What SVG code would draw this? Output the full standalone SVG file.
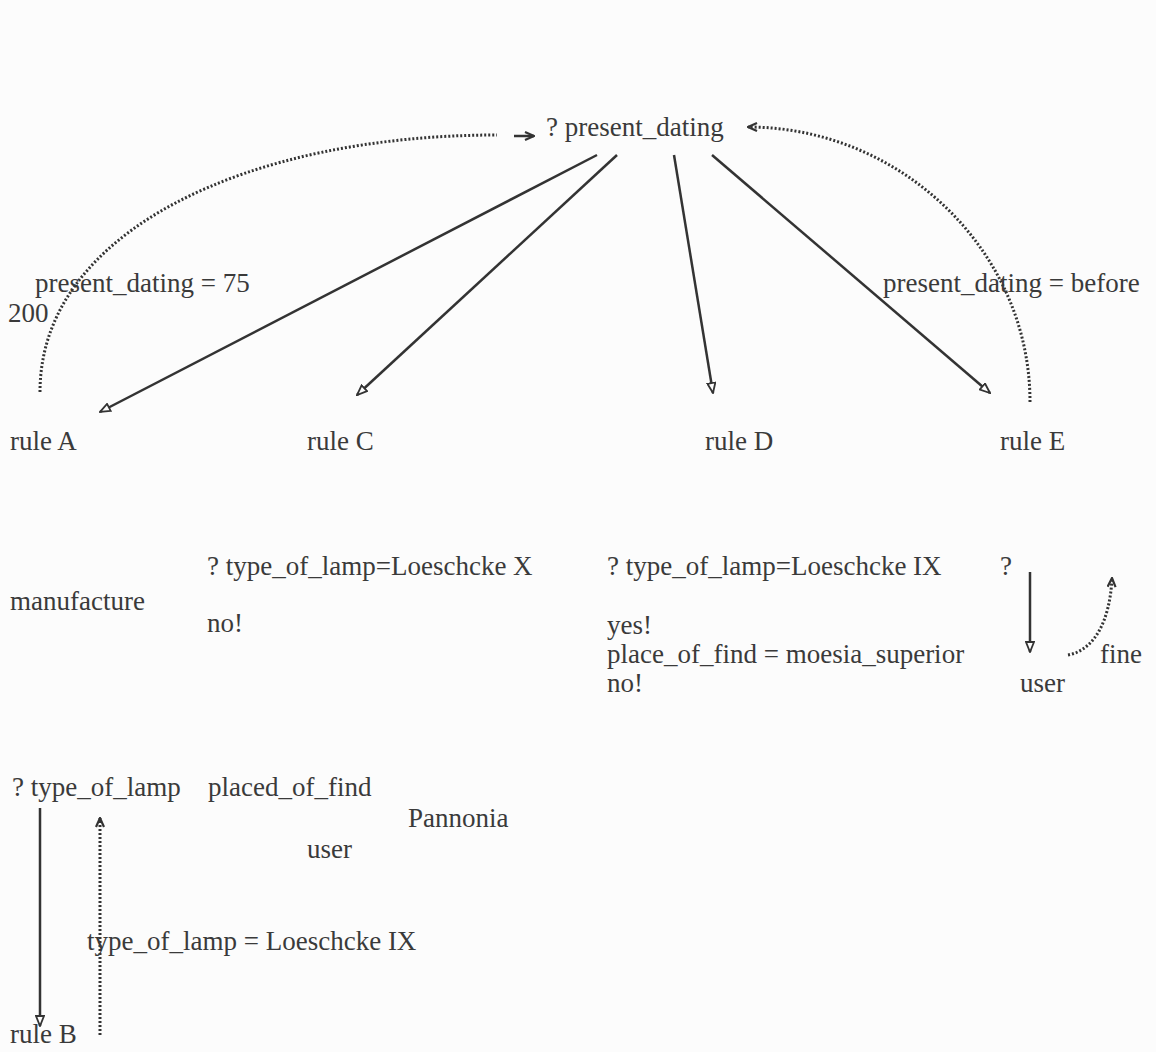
<svg xmlns="http://www.w3.org/2000/svg" width="1156" height="1052" viewBox="0 0 1156 1052">
<style>
text{font-family:'Liberation Serif','Tinos','DejaVu Serif',serif;font-size:27px;fill:#3a3a3a}
.s{stroke:#333;stroke-width:2.5;fill:none}
.d{stroke:#333;stroke-width:3;fill:none;stroke-dasharray:2 2}
</style>
<defs>
<marker id="ah" viewBox="0 0 12 10" refX="11" refY="5" markerWidth="12" markerHeight="10" markerUnits="userSpaceOnUse" orient="auto">
<path d="M1 1 L11 5 L1 9 Z" fill="#fcfcfc" stroke="#333" stroke-width="1.8"/>
</marker>
<marker id="as" viewBox="0 0 12 10" refX="11" refY="5" markerWidth="12" markerHeight="10" markerUnits="userSpaceOnUse" orient="auto">
<path d="M2 1 L11 5 L2 9" fill="none" stroke="#333" stroke-width="2.2"/>
</marker>
</defs>
<rect width="1156" height="1052" fill="#fcfcfc"/>
<g id="connectors">
<path class="d" d="M40 392 C40 230 250 135 497 135"/>
<line class="s" x1="514" y1="136" x2="534" y2="136" marker-end="url(#as)"/>
<path class="d" d="M1030 402 C1030 250 900 127 748 127" marker-end="url(#as)"/>
<line class="s" x1="597" y1="155" x2="100" y2="412" marker-end="url(#ah)"/>
<line class="s" x1="617" y1="155" x2="357" y2="395" marker-end="url(#ah)"/>
<line class="s" x1="674" y1="155" x2="713" y2="393" marker-end="url(#ah)"/>
<line class="s" x1="712" y1="155" x2="990" y2="393" marker-end="url(#ah)"/>
<line class="s" x1="1030" y1="572" x2="1030" y2="652" marker-end="url(#ah)"/>
<path class="d" d="M1068 655 C1095 650 1110 620 1112 578" marker-end="url(#as)"/>
<line class="s" x1="40" y1="808" x2="40" y2="1026" marker-end="url(#ah)"/>
<line class="d" x1="100" y1="1035" x2="100" y2="818" marker-end="url(#as)"/>
</g>
<g id="n-present-dating"><text x="546" y="136">? present_dating</text></g>
<g id="l-pd75"><text x="35" y="292">present_dating = 75</text><text x="8" y="322">200</text></g>
<g id="l-pdbefore"><text x="883" y="292">present_dating = before</text></g>
<g id="n-rule-a"><text x="10" y="450">rule A</text></g>
<g id="n-rule-c"><text x="307" y="450">rule C</text></g>
<g id="n-rule-d"><text x="705" y="450">rule D</text></g>
<g id="n-rule-e"><text x="1000" y="450">rule E</text></g>
<g id="n-manufacture"><text x="10" y="610">manufacture</text></g>
<g id="n-c-block"><text x="207" y="575">? type_of_lamp=Loeschcke X</text><text x="207" y="632">no!</text></g>
<g id="n-d-block"><text x="607" y="575">? type_of_lamp=Loeschcke IX</text><text x="607" y="634">yes!</text><text x="607" y="663">place_of_find = moesia_superior</text><text x="607" y="692">no!</text></g>
<g id="n-e-block"><text x="1000" y="575">?</text><text x="1100" y="663">fine</text><text x="1020" y="692">user</text></g>
<g id="n-type-of-lamp"><text x="12" y="796">? type_of_lamp</text></g>
<g id="n-placed"><text x="208" y="796">placed_of_find</text><text x="408" y="827">Pannonia</text><text x="307" y="858">user</text></g>
<g id="l-loeschcke"><text x="87" y="950">type_of_lamp = Loeschcke IX</text></g>
<g id="n-rule-b"><text x="10" y="1043">rule B</text></g>
</svg>
